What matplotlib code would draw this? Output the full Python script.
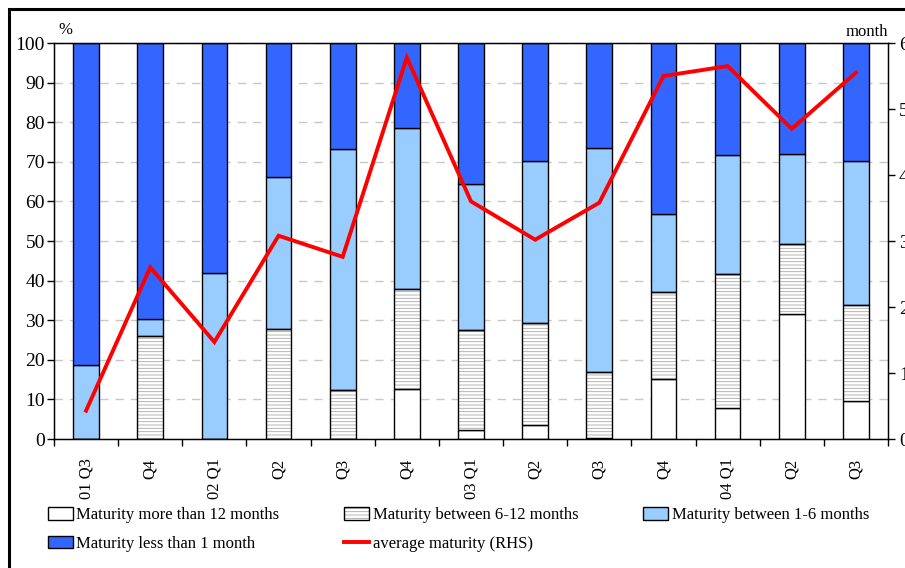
import numpy as np
import matplotlib
matplotlib.use('Agg')
import matplotlib.pyplot as plt
from matplotlib.patches import Patch, Rectangle
from matplotlib.lines import Line2D

plt.rcParams['font.family'] = ['Liberation Serif', 'DejaVu Serif']
plt.rcParams['font.size'] = 12
plt.rcParams['hatch.linewidth'] = 0.6

quarters = ['01 Q3', 'Q4', '02 Q1', 'Q2', 'Q3', 'Q4', '03 Q1', 'Q2', 'Q3',
            'Q4', '04 Q1', 'Q2', 'Q3']

# shares of debt by remaining maturity, % (each bar sums to 100)
over_12m = [0.0, 0.0, 0.0, 0.0, 0.0, 12.6, 2.3, 3.5, 0.3, 15.1, 7.8, 31.6, 9.7]
m6_12 = [0.0, 26.0, 0.0, 27.7, 12.4, 25.4, 25.2, 25.8, 16.7, 21.9, 33.9, 17.6, 24.2]
m1_6 = [18.7, 4.2, 42.0, 38.5, 60.9, 40.5, 37.0, 40.8, 56.5, 19.8, 30.0, 22.8, 36.2]
under_1m = [81.3, 69.8, 58.0, 33.8, 26.7, 21.5, 35.5, 29.9, 26.5, 43.2, 28.3, 28.0, 29.9]

# average maturity in months (right-hand scale)
avg_maturity = [0.43, 2.60, 1.47, 3.08, 2.76, 5.78, 3.60, 3.02, 3.58, 5.50,
                5.65, 4.70, 5.55]

dark_blue = '#3366ff'
light_blue = '#99ccff'

fig = plt.figure(figsize=(9.05, 5.68), dpi=100)
ax = fig.add_axes([54 / 905, 1 - 439 / 568, 834 / 905, 396 / 568])

x = np.arange(len(quarters))
w = 0.4
b1 = np.array(over_12m)
b2 = b1 + np.array(m6_12)
b3 = b2 + np.array(m1_6)

ax.bar(x, over_12m, w, color='white', edgecolor='black', lw=1, zorder=2)
ax.bar(x, m6_12, w, bottom=b1, color='white', edgecolor='#a8a8a8',
       hatch='-----', lw=0, zorder=2)
ax.bar(x, m6_12, w, bottom=b1, fill=False, edgecolor='black', lw=1, zorder=3)
ax.bar(x, m1_6, w, bottom=b2, color=light_blue, edgecolor='black', lw=1, zorder=2)
ax.bar(x, under_1m, w, bottom=b3, color=dark_blue, edgecolor='black', lw=1, zorder=2)

ax.set_xlim(-0.5, len(quarters) - 0.5)
ax.set_ylim(0, 100)
ax.set_yticks(np.arange(0, 101, 10))
ax.set_xticks(x)
ax.set_xticklabels(quarters, rotation=90)
ax.set_xticks(np.arange(-0.5, len(quarters), 1), minor=True)
ax.tick_params(axis='x', which='major', length=0, pad=14)
ax.tick_params(axis='x', which='minor', length=5, width=1, direction='out')
ax.tick_params(axis='y', length=5, width=1, direction='out', pad=1.5,
               labelsize=14)
for lab in ax.get_xticklabels():
    lab.set_verticalalignment('top')

ax.yaxis.grid(True, linestyle=(0, (6, 5)), color='#c8c8c8', lw=1)
ax.set_axisbelow(True)
for s in ax.spines.values():
    s.set_linewidth(1)

ax2 = ax.twinx()
ax2.plot(x, avg_maturity, color='red', lw=2.8, solid_joinstyle='miter', zorder=5)
ax2.set_ylim(0, 6)
ax2.set_yticks(range(0, 7))
ax2.tick_params(axis='y', length=5, width=1, direction='out', pad=3,
                labelsize=14)

fig.text(58 / 905, 1 - 30 / 568, '%', ha='left', va='center', fontsize=12)
fig.text(888 / 905, 1 - 32 / 568, 'month', ha='right', va='center', fontsize=12)

# outer frame around the chart
fig.patches.append(Rectangle((9 / 905, -0.02), 1.05, 1 - 9 / 568 + 0.02,
                             transform=fig.transFigure, fill=False,
                             edgecolor='black', lw=2.2, clip_on=False))

h_over = Patch(facecolor='white', edgecolor='black', lw=1)
h_612 = (Patch(facecolor='white', edgecolor='#a8a8a8', hatch='-----', lw=0),
         Patch(fill=False, edgecolor='black', lw=1))
h_16 = Patch(facecolor=light_blue, edgecolor='black', lw=1)
h_1 = Patch(facecolor=dark_blue, edgecolor='black', lw=1)
h_avg = Line2D([], [], color='red', lw=2.8)

handles = [h_over, h_1, h_612, h_avg, h_16]
labels = ['Maturity more than 12 months', 'Maturity less than 1 month',
          'Maturity between 6-12 months', 'average maturity (RHS)',
          'Maturity between 1-6 months']
fig.legend(handles, labels, ncol=3, loc='upper left',
           bbox_to_anchor=(48 / 905, 1 - 507 / 568),
           bbox_transform=fig.transFigure, frameon=False, borderpad=0,
           borderaxespad=0, handlelength=1.5, handleheight=0.8,
           handletextpad=0.2, columnspacing=3.9, labelspacing=0.75,
           fontsize=12)

fig.savefig('out.png', dpi=100)
